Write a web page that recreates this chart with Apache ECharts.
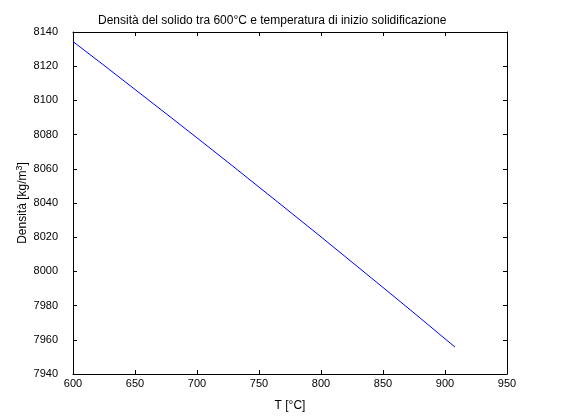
<!DOCTYPE html>
<html>
<head>
<meta charset="utf-8">
<script src="https://cdn.jsdelivr.net/npm/echarts@6/dist/echarts.min.js"></script>
<style>html,body{margin:0;padding:0;background:#fff;}#c{width:561px;height:420px;}</style>
</head>
<body>
<div id="c"></div>
<script>
const temperatures = [600, 625, 650, 675, 700, 725, 750, 775, 800, 825, 850, 875, 900, 908];
const densities = [8134.4, 8120.5, 8106.4, 8092.3, 8078.1, 8063.8, 8049.3, 8034.8, 8020.2, 8005.4, 7990.6, 7975.7, 7960.6, 7955.8];
const titleText = 'Densità del solido tra 600°C e temperatura di inizio solidificazione';
const xName = 'T [°C]';
const yName = 'Densità [kg/m{sup|3}]';

const font = '"Liberation Sans", Arial, Helvetica, sans-serif';
const chart = echarts.init(document.getElementById('c'), null, {renderer: 'canvas'});
const axisCommon = {
  axisLine: {show: true, onZero: false, lineStyle: {color: '#000', width: 1}},
  axisTick: {show: true, inside: true, length: 4, lineStyle: {color: '#000', width: 1}},
  splitLine: {show: false},
  axisLabel: {color: '#000', fontSize: 11, fontFamily: font, formatter: v => String(v)}
};
chart.setOption({
  backgroundColor: '#fff',
  animation: false,
  title: {
    text: titleText, left: 93, top: 10,
    textStyle: {fontSize: 12, fontWeight: 'normal', color: '#000', fontFamily: font}
  },
  grid: {left: 73, right: 54, top: 32, bottom: 46, containLabel: false},
  xAxis: [
    Object.assign({}, axisCommon, {
      type: 'value', min: 600, max: 950, interval: 50, position: 'bottom',
      name: xName, nameLocation: 'middle', nameGap: 26, nameMoveOverlap: false,
      nameTextStyle: {color: '#000', fontSize: 12, fontFamily: font},
      axisLabel: Object.assign({}, axisCommon.axisLabel, {margin: 4})
    }),
    Object.assign({}, axisCommon, {
      type: 'value', min: 600, max: 950, interval: 50, position: 'top',
      axisLabel: {show: false}
    })
  ],
  yAxis: [
    Object.assign({}, axisCommon, {
      type: 'value', min: 7940, max: 8140, interval: 20, position: 'left',
      name: yName, nameLocation: 'middle', nameGap: 43, nameMoveOverlap: false,
      nameTextStyle: {color: '#000', fontSize: 12, fontFamily: font,
        rich: {sup: {fontSize: 9, verticalAlign: 'top', padding: [0, 0, 6, 0], color: '#000', fontFamily: font}}},
      axisLabel: Object.assign({}, axisCommon.axisLabel, {margin: 15})
    }),
    Object.assign({}, axisCommon, {
      type: 'value', min: 7940, max: 8140, interval: 20, position: 'right',
      axisLabel: {show: false}
    })
  ],
  series: [{
    type: 'line',
    data: temperatures.map((t, i) => [t, densities[i]]),
    showSymbol: false,
    symbol: 'none',
    lineStyle: {color: '#0000ff', width: 1},
    smooth: false
  }]
});
</script>
</body>
</html>
